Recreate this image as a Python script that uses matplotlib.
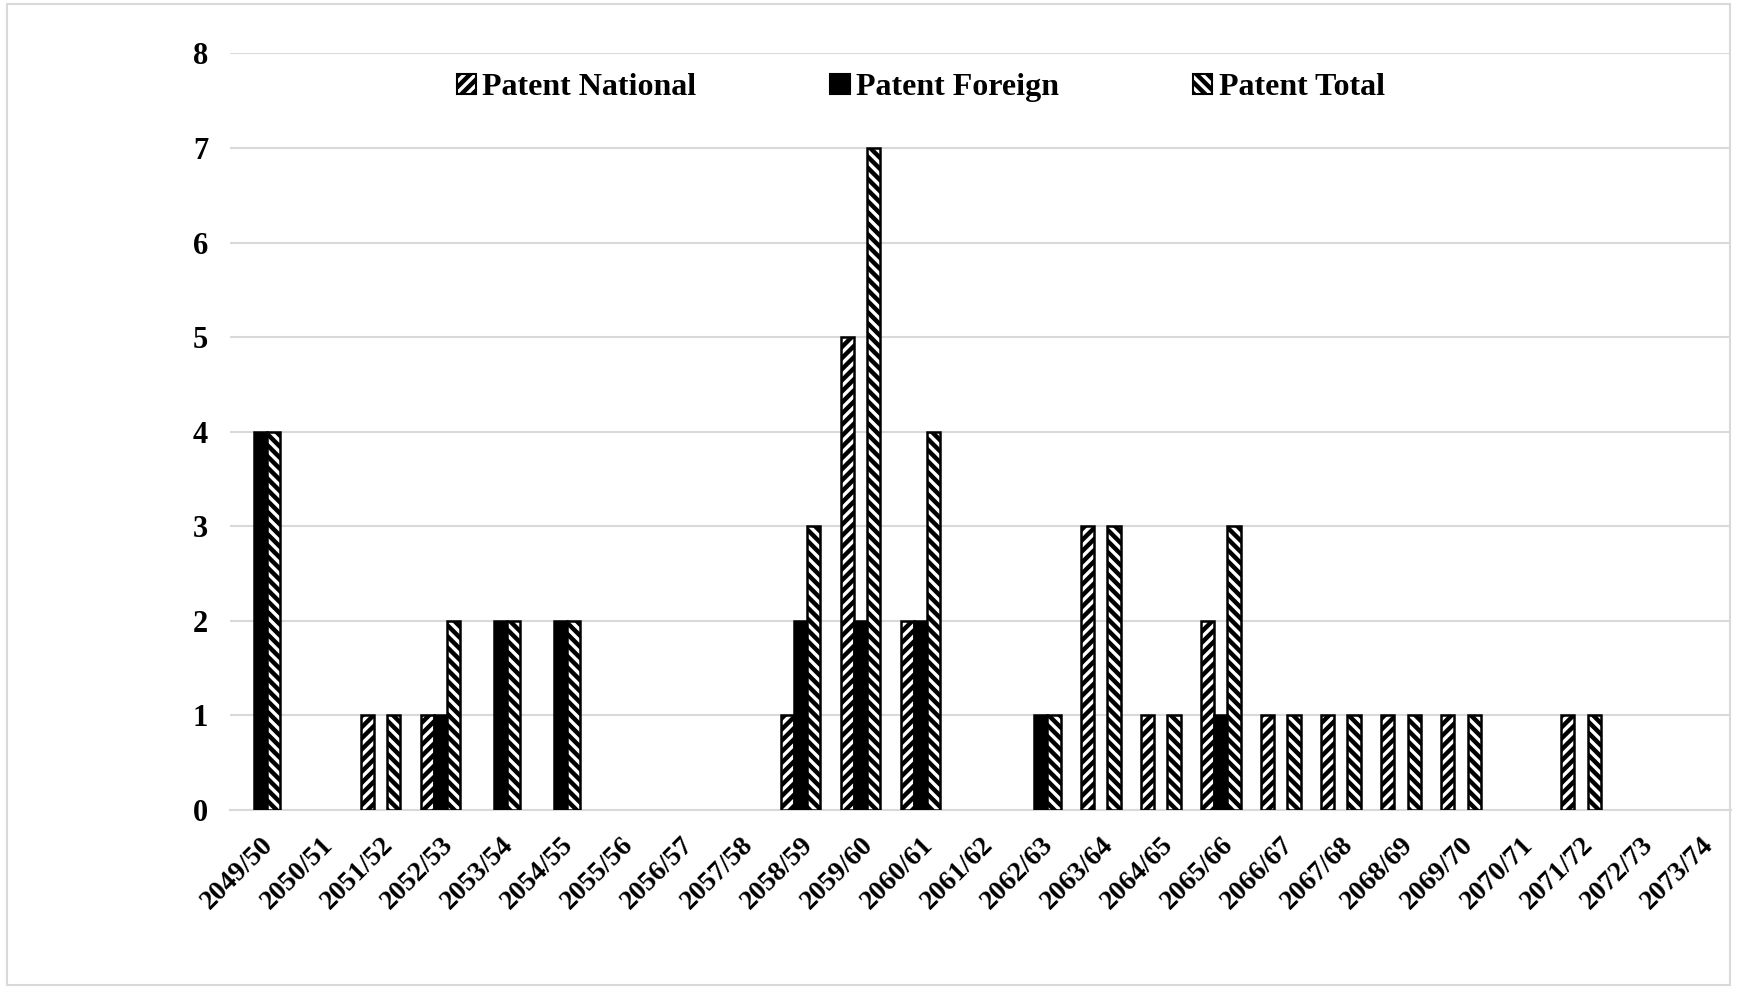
import matplotlib
matplotlib.use("Agg")
import matplotlib.pyplot as plt
import numpy as np
from matplotlib.patches import Rectangle

categories = ["2049/50", "2050/51", "2051/52", "2052/53", "2053/54", "2054/55",
              "2055/56", "2056/57", "2057/58", "2058/59", "2059/60", "2060/61",
              "2061/62", "2062/63", "2063/64", "2064/65", "2065/66", "2066/67",
              "2067/68", "2068/69", "2069/70", "2070/71", "2071/72", "2072/73",
              "2073/74"]
patent_national = [0, 0, 1, 1, 0, 0, 0, 0, 0, 1, 5, 2, 0, 0, 3, 1, 2, 1, 1, 1, 1, 0, 1, 0, 0]
patent_foreign = [4, 0, 0, 1, 2, 2, 0, 0, 0, 2, 2, 2, 0, 1, 0, 0, 1, 0, 0, 0, 0, 0, 0, 0, 0]
patent_total = [4, 0, 1, 2, 2, 2, 0, 0, 0, 3, 7, 4, 0, 1, 3, 1, 3, 1, 1, 1, 1, 0, 1, 0, 0]
series_names = ["Patent National", "Patent Foreign", "Patent Total"]

plt.rcParams['font.family'] = ['Liberation Serif', 'DejaVu Serif']
plt.rcParams['font.weight'] = 'bold'
plt.rcParams['hatch.linewidth'] = 3.2

fig = plt.figure(figsize=(17.37, 9.89), dpi=100)
ax = fig.add_axes([0.1326, 0.181, 0.864, 0.765])

x = np.arange(len(categories))
w = 0.22

def lw(vals):
    return [1.8 if v > 0 else 0 for v in vals]

ax.bar(x - w, patent_national, w, color='white', edgecolor='black', hatch='///',
       linewidth=lw(patent_national), label=series_names[0], zorder=3)
ax.bar(x, patent_foreign, w, color='black', edgecolor='black',
       linewidth=lw(patent_foreign), label=series_names[1], zorder=3)
ax.bar(x + w, patent_total, w, color='white', edgecolor='black', hatch='\\\\\\',
       linewidth=lw(patent_total), label=series_names[2], zorder=3)

ax.set_xlim(-0.5, len(categories) - 0.5)
ax.set_ylim(0, 8)
ax.set_yticks(range(0, 9))
ax.yaxis.grid(True, color='#d9d9d9', linewidth=1.5, zorder=0)
ax.set_axisbelow(True)
for s in ['top', 'right', 'left']:
    ax.spines[s].set_visible(False)
ax.spines['bottom'].set_color('#d9d9d9')
ax.spines['bottom'].set_linewidth(1.5)
ax.tick_params(axis='both', length=0)
ax.tick_params(axis='y', labelsize=22, pad=16)
ax.set_xticks(x)
ax.set_xticklabels(categories, rotation=45, ha='right', rotation_mode='anchor',
                   fontsize=20, fontweight='bold')
ax.tick_params(axis='x', pad=16)
for lbl in ax.get_yticklabels():
    lbl.set_fontweight('bold')

leg = ax.legend(loc='upper center', bbox_to_anchor=(0.46, 1.012), ncol=3, frameon=False,
                prop={'size': 23, 'weight': 'bold'}, handlelength=0.6, handleheight=0.6,
                handletextpad=0.2, columnspacing=4.2)
for h in leg.legend_handles:
    h.set_linewidth(1.5)

fig.patches.append(Rectangle((0.004, 0.004), 0.992, 0.992, transform=fig.transFigure,
                             fill=False, edgecolor='#d9d9d9', linewidth=1.5))

fig.savefig("out.png", dpi=100)
